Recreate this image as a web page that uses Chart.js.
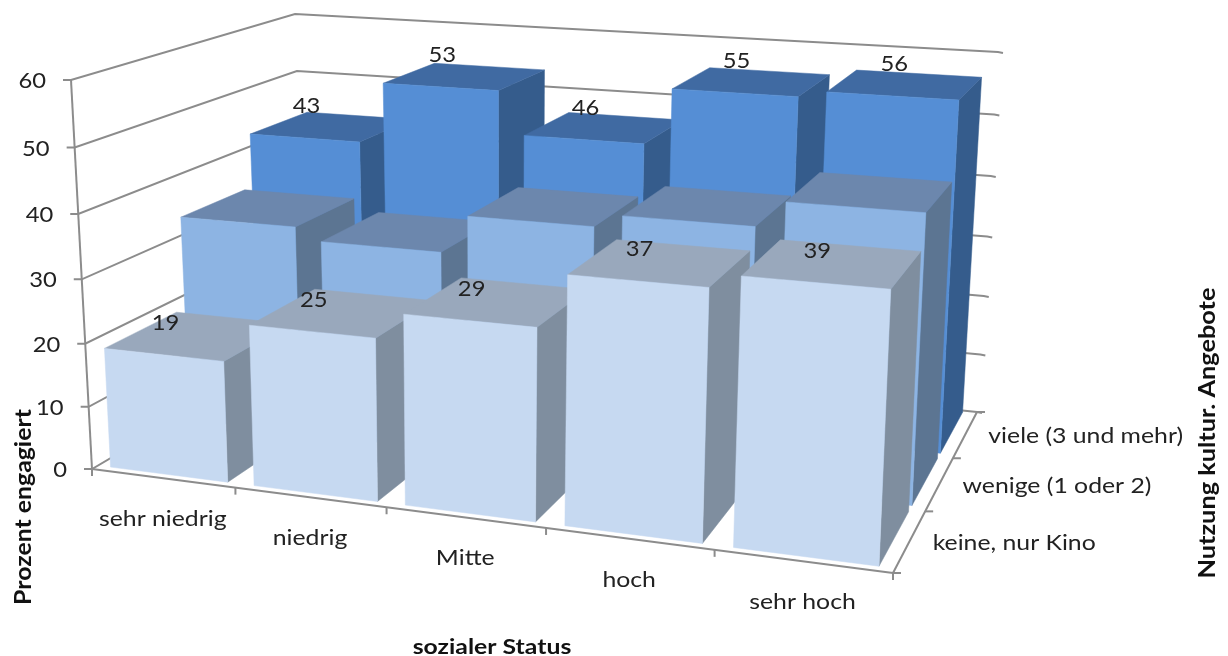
<!DOCTYPE html>
<html lang="de">
<head>
<meta charset="utf-8">
<title>Engagement nach sozialem Status</title>
<script src="https://cdn.jsdelivr.net/npm/chart.js@4/dist/chart.umd.min.js"></script>
<style>
  html, body { margin: 0; padding: 0; background: #fff; }
  #wrap { width: 1228px; height: 656px; }
</style>
</head>
<body>
<div id="wrap"><canvas id="chart" width="1228" height="656"></canvas></div>
<script>
// Chart data
const categories = ['sehr niedrig', 'niedrig', 'Mitte', 'hoch', 'sehr hoch'];
const rows = ['keine, nur Kino', 'wenige (1 oder 2)', 'viele (3 und mehr)'];
const keineValues = [19, 25, 29, 37, 39];
const wenigeValues = [34, 32, 38, 40, 44];
const vieleValues = [43, 53, 46, 55, 56];
const yTicks = [0, 10, 20, 30, 40, 50, 60];
const labelledRows = [true, false, true];

// Box corners on screen: floor and ceiling of the 3D plot
const FLOOR = [[92, 469], [893, 573], [977, 412], [306, 343]];
const CEIL = [[71, 80], [912, 136], [998, 52], [295, 14]];
const VERTICAL_BOW = 0.05;
const DEPTH_FROM = 0.07, DEPTH_TO = 0.96;

const FONT = 'Lato, "Open Sans", sans-serif';
const GRID = '#8c8c8c';
const INK = '#222222';

const rowColors = [
  { front: '#c6d9f1', top: '#99a8bc', side: '#7f8e9f' },
  { front: '#8db4e3', top: '#6c87ad', side: '#5c7592' },
  { front: '#558ed5', top: '#406aa2', side: '#355c8c' }
];

// unit square -> quad homography
function squareToQuad(q) {
  const [[x0, y0], [x1, y1], [x2, y2], [x3, y3]] = q;
  const dx1 = x1 - x2, dx2 = x3 - x2, dx3 = x0 - x1 + x2 - x3;
  const dy1 = y1 - y2, dy2 = y3 - y2, dy3 = y0 - y1 + y2 - y3;
  const den = dx1 * dy2 - dx2 * dy1;
  const g = (dx3 * dy2 - dx2 * dy3) / den;
  const h = (dx1 * dy3 - dx3 * dy1) / den;
  return {
    a: x1 - x0 + g * x1, b: x3 - x0 + h * x3, c: x0,
    d: y1 - y0 + g * y1, e: y3 - y0 + h * y3, f: y0, g, h
  };
}

function applyQuad(m, u, v) {
  const w = m.g * u + m.h * v + 1;
  return [(m.a * u + m.b * v + m.c) / w, (m.d * u + m.e * v + m.f) / w];
}

const floorMap = squareToQuad(FLOOR);
const ceilMap = squareToQuad(CEIL);

// u: along the categories, v: into the depth, t: height, all 0..1
function project(u, v, t) {
  const lo = applyQuad(floorMap, u, v);
  const hi = applyQuad(ceilMap, u, v);
  const s = t * (1 - VERTICAL_BOW * (1 - t));
  return [lo[0] + (hi[0] - lo[0]) * s, lo[1] + (hi[1] - lo[1]) * s];
}

function fillPoly(ctx, pts, color) {
  ctx.beginPath();
  pts.forEach((p, i) => i ? ctx.lineTo(p[0], p[1]) : ctx.moveTo(p[0], p[1]));
  ctx.closePath();
  ctx.fillStyle = color;
  ctx.strokeStyle = color;
  ctx.lineWidth = 0.5;
  ctx.fill();
  ctx.stroke();
}

function line(ctx, a, b) {
  ctx.beginPath();
  ctx.moveTo(a[0], a[1]);
  ctx.lineTo(b[0], b[1]);
  ctx.stroke();
}

// text widened along its baseline, the chart's lettering runs wide
function wideText(ctx, text, x, y, sx, angle) {
  ctx.save();
  ctx.translate(x, y);
  if (angle) ctx.rotate(angle);
  ctx.scale(sx, 1);
  ctx.fillText(text, 0, 0);
  ctx.restore();
}

// Bar controller that paints each bar as a box on the projected floor
class Bar3DController extends Chart.BarController {
  draw() {
    const ctx = this.chart.ctx;
    const meta = this.getMeta();
    const xScale = meta.xScale, yScale = meta.yScale;
    const colors = rowColors[this.index];
    const v0 = (this.index + DEPTH_FROM) / rows.length;
    const v1 = (this.index + DEPTH_TO) / rows.length;
    meta.data.forEach(bar => {
      const u0 = (bar.x - bar.width / 2 - xScale.left) / xScale.width;
      const u1 = (bar.x + bar.width / 2 - xScale.left) / xScale.width;
      const t = (yScale.bottom - bar.y) / yScale.height;
      fillPoly(ctx, [project(u1, v0, 0), project(u1, v1, 0), project(u1, v1, t), project(u1, v0, t)], colors.side);
      fillPoly(ctx, [project(u0, v0, t), project(u1, v0, t), project(u1, v1, t), project(u0, v1, t)], colors.top);
      fillPoly(ctx, [project(u0, v0, 0), project(u1, v0, 0), project(u1, v0, t), project(u0, v0, t)], colors.front);
    });
  }
}
Bar3DController.id = 'bar3d';
Bar3DController.defaults = Chart.BarController.defaults;
Bar3DController.overrides = Chart.BarController.overrides;
Chart.register(Bar3DController);

// Walls, gridlines and axis ticks behind the bars
const wallsPlugin = {
  id: 'walls',
  beforeDatasetsDraw(chart) {
    const ctx = chart.ctx, y = chart.scales.y;
    ctx.save();
    ctx.strokeStyle = GRID;
    ctx.lineWidth = 2;
    y.ticks.forEach(tick => {
      const t = tick.value / y.max;
      const fl = project(0, 0, t), bl = project(0, 1, t), br = project(1, 1, t);
      ctx.beginPath();
      ctx.moveTo(fl[0] - 8, fl[1]);
      ctx.lineTo(fl[0], fl[1]);
      ctx.lineTo(bl[0], bl[1]);
      ctx.lineTo(br[0], br[1]);
      ctx.lineTo(br[0] + 5, br[1] + 1);
      ctx.stroke();
    });
    line(ctx, project(0, 0, 0), project(0, 0, 1));
    const n = categories.length;
    line(ctx, project(0, 0, 0), project(1, 0, 0));
    line(ctx, project(1, 0, 0), project(1, 1, 0));
    for (let i = 0; i <= n; i++) {
      const p = project(i / n, 0, 0);
      line(ctx, p, [p[0], p[1] + 7]);
    }
    for (let i = 0; i <= rows.length; i++) {
      const p = project(1, i / rows.length, 0);
      line(ctx, p, [p[0] + 8, p[1]]);
    }
    ctx.restore();
  },
  afterDatasetsDraw(chart) {
    const ctx = chart.ctx, x = chart.scales.x, y = chart.scales.y;
    ctx.save();
    ctx.fillStyle = INK;
    ctx.font = '22px ' + FONT;
    ctx.textBaseline = 'middle';

    // value axis labels
    ctx.textAlign = 'right';
    y.ticks.forEach(tick => {
      const p = project(0, 0, tick.value / y.max);
      wideText(ctx, tick.label, p[0] - 25, p[1] + 1, 1.08);
    });

    // category labels under the front edge
    ctx.textAlign = 'center';
    ctx.font = '21px ' + FONT;
    categories.forEach((c, i) => {
      const u = (x.getPixelForValue(i) - x.left) / x.width;
      const p = project(u, 0, 0);
      wideText(ctx, c, p[0], p[1] + 41, 1.18);
    });

    // row labels beside the right edge
    ctx.textAlign = 'left';
    rows.forEach((r, i) => {
      const p = project(1, (i + 0.5) / rows.length, 0);
      wideText(ctx, r, p[0] + 23, p[1] + 2, 1.18);
    });

    // value labels above the front edge of a bar's top
    ctx.textAlign = 'center';
    ctx.font = '22px ' + FONT;
    chart.data.datasets.forEach((ds, d) => {
      if (!labelledRows[d]) return;
      const meta = chart.getDatasetMeta(d);
      meta.data.forEach((bar, i) => {
        const u = (bar.x - x.left) / x.width;
        const p = project(u, (d + DEPTH_FROM) / rows.length, (y.bottom - bar.y) / y.height);
        wideText(ctx, String(ds.data[i]), p[0] + 2, p[1] - 32, 1.08);
      });
    });

    // axis titles
    ctx.fillStyle = '#111111';
    ctx.font = 'bold 21px ' + FONT;
    wideText(ctx, 'sozialer Status', 492, 647, 1.18);
    ctx.font = 'bold 23px ' + FONT;
    wideText(ctx, 'Prozent engagiert', 24, 507, 1.08, -Math.PI / 2);
    wideText(ctx, 'Nutzung kultur. Angebote', 1208, 433, 1.1, -Math.PI / 2);
    ctx.restore();
  }
};

const datasets = [keineValues, wenigeValues, vieleValues].map((data, i) => ({
  label: rows[i],
  data,
  grouped: false,
  clip: false,
  categoryPercentage: 1,
  barPercentage: 0.82
}));

new Chart(document.getElementById('chart'), {
  type: 'bar3d',
  data: { labels: categories, datasets },
  plugins: [wallsPlugin],
  options: {
    responsive: false,
    animation: false,
    layout: { padding: 0 },
    plugins: { legend: { display: false }, tooltip: { enabled: false } },
    scales: {
      x: { type: 'category', offset: true, display: false },
      y: { type: 'linear', min: yTicks[0], max: yTicks[yTicks.length - 1], display: false, ticks: { stepSize: 10 } }
    }
  }
});
</script>
</body>
</html>
